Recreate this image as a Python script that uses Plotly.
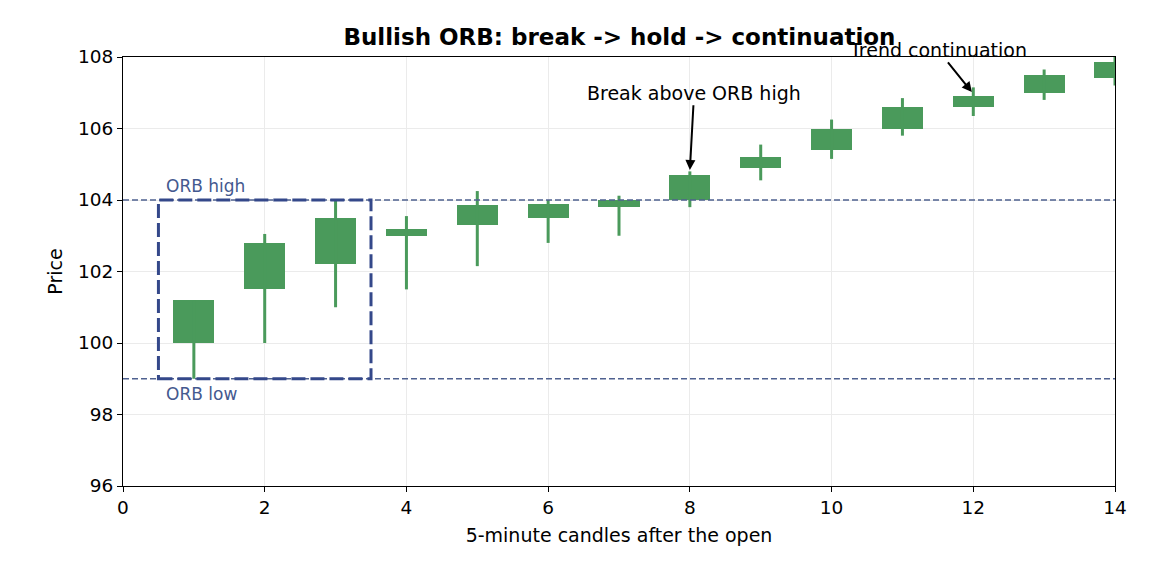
import plotly.graph_objects as go

# ---- data ----
candle_idx = [1, 2, 3, 4, 5, 6, 7, 8, 9, 10, 11, 12, 13, 14]
open_ = [100.0, 101.5, 102.2, 103.0, 103.3, 103.5, 103.8, 104.0, 104.9, 105.4, 106.0, 106.6, 107.0, 107.4]
close = [101.2, 102.8, 103.5, 103.2, 103.85, 103.9, 104.0, 104.7, 105.2, 106.0, 106.6, 106.9, 107.5, 107.85]
high = [101.2, 103.05, 104.0, 103.55, 104.25, 104.0, 104.12, 104.8, 105.55, 106.25, 106.85, 107.15, 107.65, 108.0]
low = [99.0, 100.0, 101.0, 101.5, 102.15, 102.8, 103.0, 103.8, 104.55, 105.15, 105.8, 106.35, 106.8, 107.2]

ORB_HIGH = 104.0
ORB_LOW = 99.0
ORB_X0, ORB_X1 = 0.5, 3.5

x_ticks = [0, 2, 4, 6, 8, 10, 12, 14]
y_ticks = [96, 98, 100, 102, 104, 106, 108]

GREEN = "#4a9a5b"
ORB_LINE = "#4f6190"
ORB_BOX = "#34488a"
ORB_TEXT = "#44598f"
FONT = "DejaVu Sans"

fig = go.Figure()

# wicks
wx, wy = [], []
for xi, lo, hi in zip(candle_idx, low, high):
    wx += [xi, xi, None]
    wy += [lo, hi, None]
fig.add_trace(go.Scatter(x=wx, y=wy, mode="lines", line=dict(color=GREEN, width=3),
                         hoverinfo="skip", showlegend=False))

# bodies
fig.add_trace(go.Bar(x=candle_idx, base=open_, y=[c - o for o, c in zip(open_, close)],
                     width=0.58, marker=dict(color=GREEN, line=dict(width=0)),
                     showlegend=False))

# ORB lines
for yv in (ORB_HIGH, ORB_LOW):
    fig.add_shape(type="line", xref="paper", x0=0, x1=1, yref="y", y0=yv, y1=yv,
                  line=dict(color=ORB_LINE, width=1.6, dash="6px,3px"), layer="above")
fig.add_shape(type="rect", xref="x", yref="y", x0=ORB_X0, x1=ORB_X1, y0=ORB_LOW, y1=ORB_HIGH,
              line=dict(color=ORB_BOX, width=3, dash="14px,5px"), layer="above")

fig.add_annotation(x=0.58, y=ORB_HIGH + 0.4, text="ORB high", showarrow=False,
                   xanchor="left", yanchor="middle", font=dict(family=FONT, size=17, color=ORB_TEXT))
fig.add_annotation(x=0.58, y=ORB_LOW - 0.43, text="ORB low", showarrow=False,
                   xanchor="left", yanchor="middle", font=dict(family=FONT, size=17, color=ORB_TEXT))

# arrows
fig.add_annotation(x=8, y=104.84, ax=8.06, ay=107.0, axref="x", ayref="y", xref="x", yref="y",
                   text="Break above ORB high", showarrow=True, arrowhead=2, arrowsize=1,
                   arrowwidth=2, arrowcolor="black", standoff=0,
                   font=dict(family=FONT, size=19, color="black"))
fig.add_annotation(x=11.98, y=107.02, ax=11.5, ay=108.2, axref="x", ayref="y", xref="x", yref="y",
                   text="Trend continuation", showarrow=True, arrowhead=2, arrowsize=1,
                   arrowwidth=2, arrowcolor="black", standoff=0,
                   font=dict(family=FONT, size=19, color="black"))

fig.update_layout(
    width=1171, height=562,
    margin=dict(l=123, r=56, t=57, b=76),
    paper_bgcolor="white", plot_bgcolor="white",
    font=dict(family=FONT, size=18, color="black"),
    title=dict(text="<b>Bullish ORB: break -> hold -> continuation</b>", x=0.529, xanchor="center",
               y=0.935, yanchor="middle", font=dict(family=FONT, size=23, color="black")),
    showlegend=False,
    bargap=0,
)
fig.update_xaxes(range=[0, 14], tickvals=x_ticks, showgrid=True, gridcolor="#ebebeb", gridwidth=1,
                 showline=True, linecolor="black", linewidth=1.2, mirror=True,
                 ticks="outside", ticklen=5, tickcolor="black", zeroline=False,
                 tickfont=dict(size=18.5),
                 title=dict(text="5-minute candles after the open", font=dict(size=19), standoff=11))
fig.update_yaxes(range=[96, 108], tickvals=y_ticks, showgrid=True, gridcolor="#ebebeb", gridwidth=1,
                 showline=True, linecolor="black", linewidth=1.2, mirror=True,
                 ticks="outside", ticklen=5, tickcolor="black", zeroline=False,
                 tickfont=dict(size=18.5),
                 title=dict(text="Price", font=dict(size=19), standoff=10))

fig.write_html("out.html")
